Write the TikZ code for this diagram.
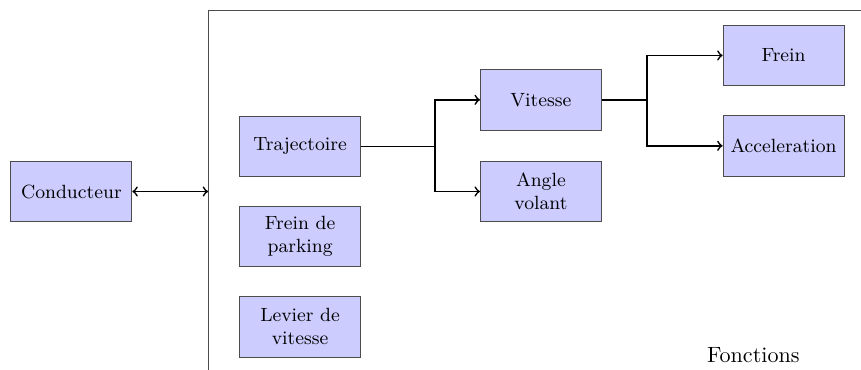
\documentclass[tikz,border=0pt]{standalone}
\usetikzlibrary{positioning}
\begin{document}
\begin{tikzpicture}[
  blockbox/.style={draw=black!70, fill=blue!20, minimum width=2cm, minimum height=1cm, align=center, inner sep=2pt, font=\small},
  conn/.style={thick},
  arr/.style={thick,->}
]
\useasboundingbox (0,0) rectangle (14.23,-6.10);
\clip (0,0) rectangle (14.23,-6.10);
\node[draw=black!70, anchor=north west, minimum width=11.5cm, minimum height=6.5cm, inner sep=0pt] (sys) at (3.44,-0.165) {};
\node[blockbox] (cond) at (1.18,-3.165) {Conducteur};
\node[blockbox] (traj) at (4.96,-2.42) {Trajectoire};
\node[blockbox] (park) at (4.96,-3.91) {Frein de\\parking};
\node[blockbox] (levier) at (4.96,-5.40) {Levier de\\vitesse};
\node[blockbox] (vit) at (8.94,-1.65) {Vitesse};
\node[blockbox] (angle) at (8.94,-3.165) {Angle\\volant};
\node[blockbox] (frein) at (12.95,-0.917) {Frein};
\node[blockbox] (acc) at (12.95,-2.41) {Acceleration};
\node[font=\fontsize{10.4}{12}\selectfont] (fonc) at (12.45,-5.87) {Fonctions};
\coordinate (b1) at (7.19,-2.42);
\coordinate (b2) at (10.69,-1.65);
\draw[thick,<->] (cond.east) -- (cond.east -| sys.west);
\draw[conn] (traj.east) -- (b1);
\draw[arr] (b1) |- (vit.west);
\draw[arr] (b1) |- (angle.west);
\draw[conn] (vit.east) -- (b2);
\draw[arr] (b2) |- (frein.west);
\draw[arr] (b2) |- (acc.west);
\end{tikzpicture}
\end{document}
